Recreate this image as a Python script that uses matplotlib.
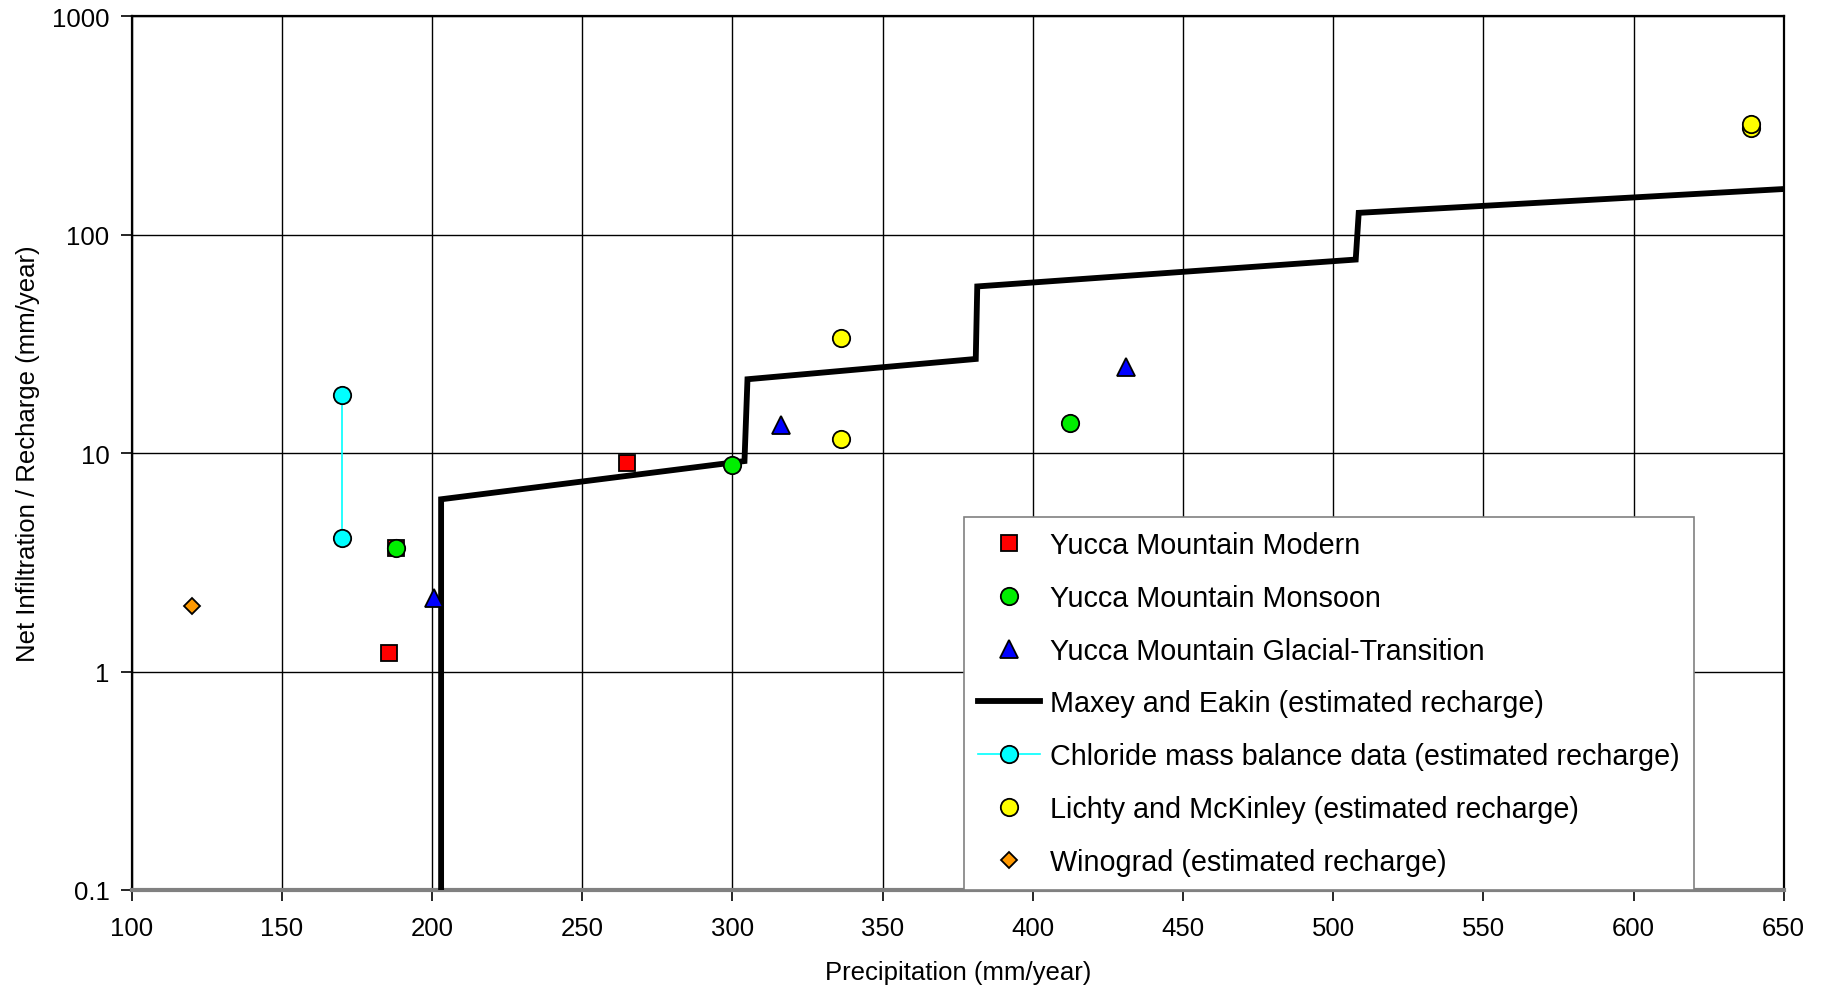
import matplotlib
matplotlib.use("Agg")
import matplotlib.pyplot as plt
from matplotlib.lines import Line2D

plt.rcParams['font.family'] = ['Liberation Sans', 'DejaVu Sans']

# ---- data ----
modern_x = [185.5, 188, 265]
modern_y = [1.22, 3.67, 9.0]
monsoon_x = [188, 300, 412.5]
monsoon_y = [3.67, 8.85, 13.8]
glacial_x = [200.5, 316, 431]
glacial_y = [2.17, 13.4, 24.8]
maxey_x = [203, 203, 304, 305, 381, 381.5, 507.5, 508.5, 650]
maxey_y = [0.01, 6.15, 9.2, 21.8, 27.0, 58.0, 77.0, 126, 162]
chloride_x = [170, 170]
chloride_y = [18.5, 4.07]
lichty_x = [336, 336, 639, 639]
lichty_y = [33.6, 11.6, 308, 320]
winograd_x = [120]
winograd_y = [2.0]

xticks = [100, 150, 200, 250, 300, 350, 400, 450, 500, 550, 600, 650]
yticks = [0.1, 1, 10, 100, 1000]
ytick_labels = ['0.1', '1', '10', '100', '1000']

labels = ['Yucca Mountain Modern', 'Yucca Mountain Monsoon',
          'Yucca Mountain Glacial-Transition', 'Maxey and Eakin (estimated recharge)',
          'Chloride mass balance data (estimated recharge)',
          'Lichty and McKinley (estimated recharge)', 'Winograd (estimated recharge)']

fig = plt.figure(figsize=(18.22, 9.87), dpi=100)
ax = fig.add_axes([0.0723, 0.0973, 0.9067, 0.8851])

ax.set_xscale('linear')
ax.set_yscale('log')

ax.plot(maxey_x, maxey_y, color='black', lw=4.2, solid_joinstyle='miter', zorder=3)
ax.plot(chloride_x, chloride_y, color='#00FFFF', lw=1.2, marker='o', ms=12.5,
        mfc='#00FFFF', mec='black', mew=1.3, zorder=4)
ax.plot(modern_x, modern_y, ls='none', marker='s', ms=12, mfc='#FF0000', mec='black', mew=1.3, zorder=4)
ax.plot(monsoon_x, monsoon_y, ls='none', marker='o', ms=12.5, mfc='#00EE00', mec='black', mew=1.3, zorder=5)
ax.plot(glacial_x, glacial_y, ls='none', marker='^', ms=13, mfc='#0000FF', mec='black', mew=1.3, zorder=5)
ax.plot(lichty_x, lichty_y, ls='none', marker='o', ms=12.5, mfc='#FFFF00', mec='black', mew=1.3, zorder=5)
ax.plot(winograd_x, winograd_y, ls='none', marker='D', ms=8.5, mfc='#FF9900', mec='black', mew=1.3, zorder=5)

ax.set_xlim(100, 650)
ax.set_ylim(0.1, 1000)
ax.set_xticks(xticks)
ax.set_xticklabels([str(v) for v in xticks])
ax.set_yticks(yticks)
ax.set_yticklabels(ytick_labels)
ax.minorticks_off()
ax.tick_params(axis='both', which='major', direction='out', length=8, width=1.2,
               labelsize=18.5, colors='black')
ax.tick_params(axis='x', pad=10.5)
ax.tick_params(axis='y', pad=8)

ax.grid(True, which='major', color='black', lw=1.0)
ax.set_axisbelow(True)
for s in ['left', 'top', 'right']:
    ax.spines[s].set_color('black')
    ax.spines[s].set_linewidth(1.6)
ax.spines['bottom'].set_color('#808080')
ax.spines['bottom'].set_linewidth(3)

ax.set_xlabel('Precipitation (mm/year)', fontsize=18.5, labelpad=15)
ax.set_ylabel('Net Infiltration / Recharge (mm/year)', fontsize=18.5, labelpad=8.3)

handles = [
    Line2D([], [], ls='none', marker='s', ms=12, mfc='#FF0000', mec='black', mew=1.3),
    Line2D([], [], ls='none', marker='o', ms=12.5, mfc='#00EE00', mec='black', mew=1.3),
    Line2D([], [], ls='none', marker='^', ms=13, mfc='#0000FF', mec='black', mew=1.3),
    Line2D([], [], color='black', lw=4.2),
    Line2D([], [], color='#00FFFF', lw=1.2, marker='o', ms=12.5, mfc='#00FFFF', mec='black', mew=1.3),
    Line2D([], [], ls='none', marker='o', ms=12.5, mfc='#FFFF00', mec='black', mew=1.3),
    Line2D([], [], ls='none', marker='D', ms=8.5, mfc='#FF9900', mec='black', mew=1.3),
]
leg = ax.legend(handles, labels, loc='lower left', bbox_to_anchor=(0.5037, 0.0),
                borderaxespad=0, fontsize=20.7, frameon=True, fancybox=False,
                edgecolor='#808080', framealpha=1.0, handlelength=2.15,
                handletextpad=0.35, labelspacing=0.86, borderpad=0.5)
leg.get_frame().set_linewidth(1.2)
leg.set_zorder(10)

fig.savefig('out.png', dpi=100)
